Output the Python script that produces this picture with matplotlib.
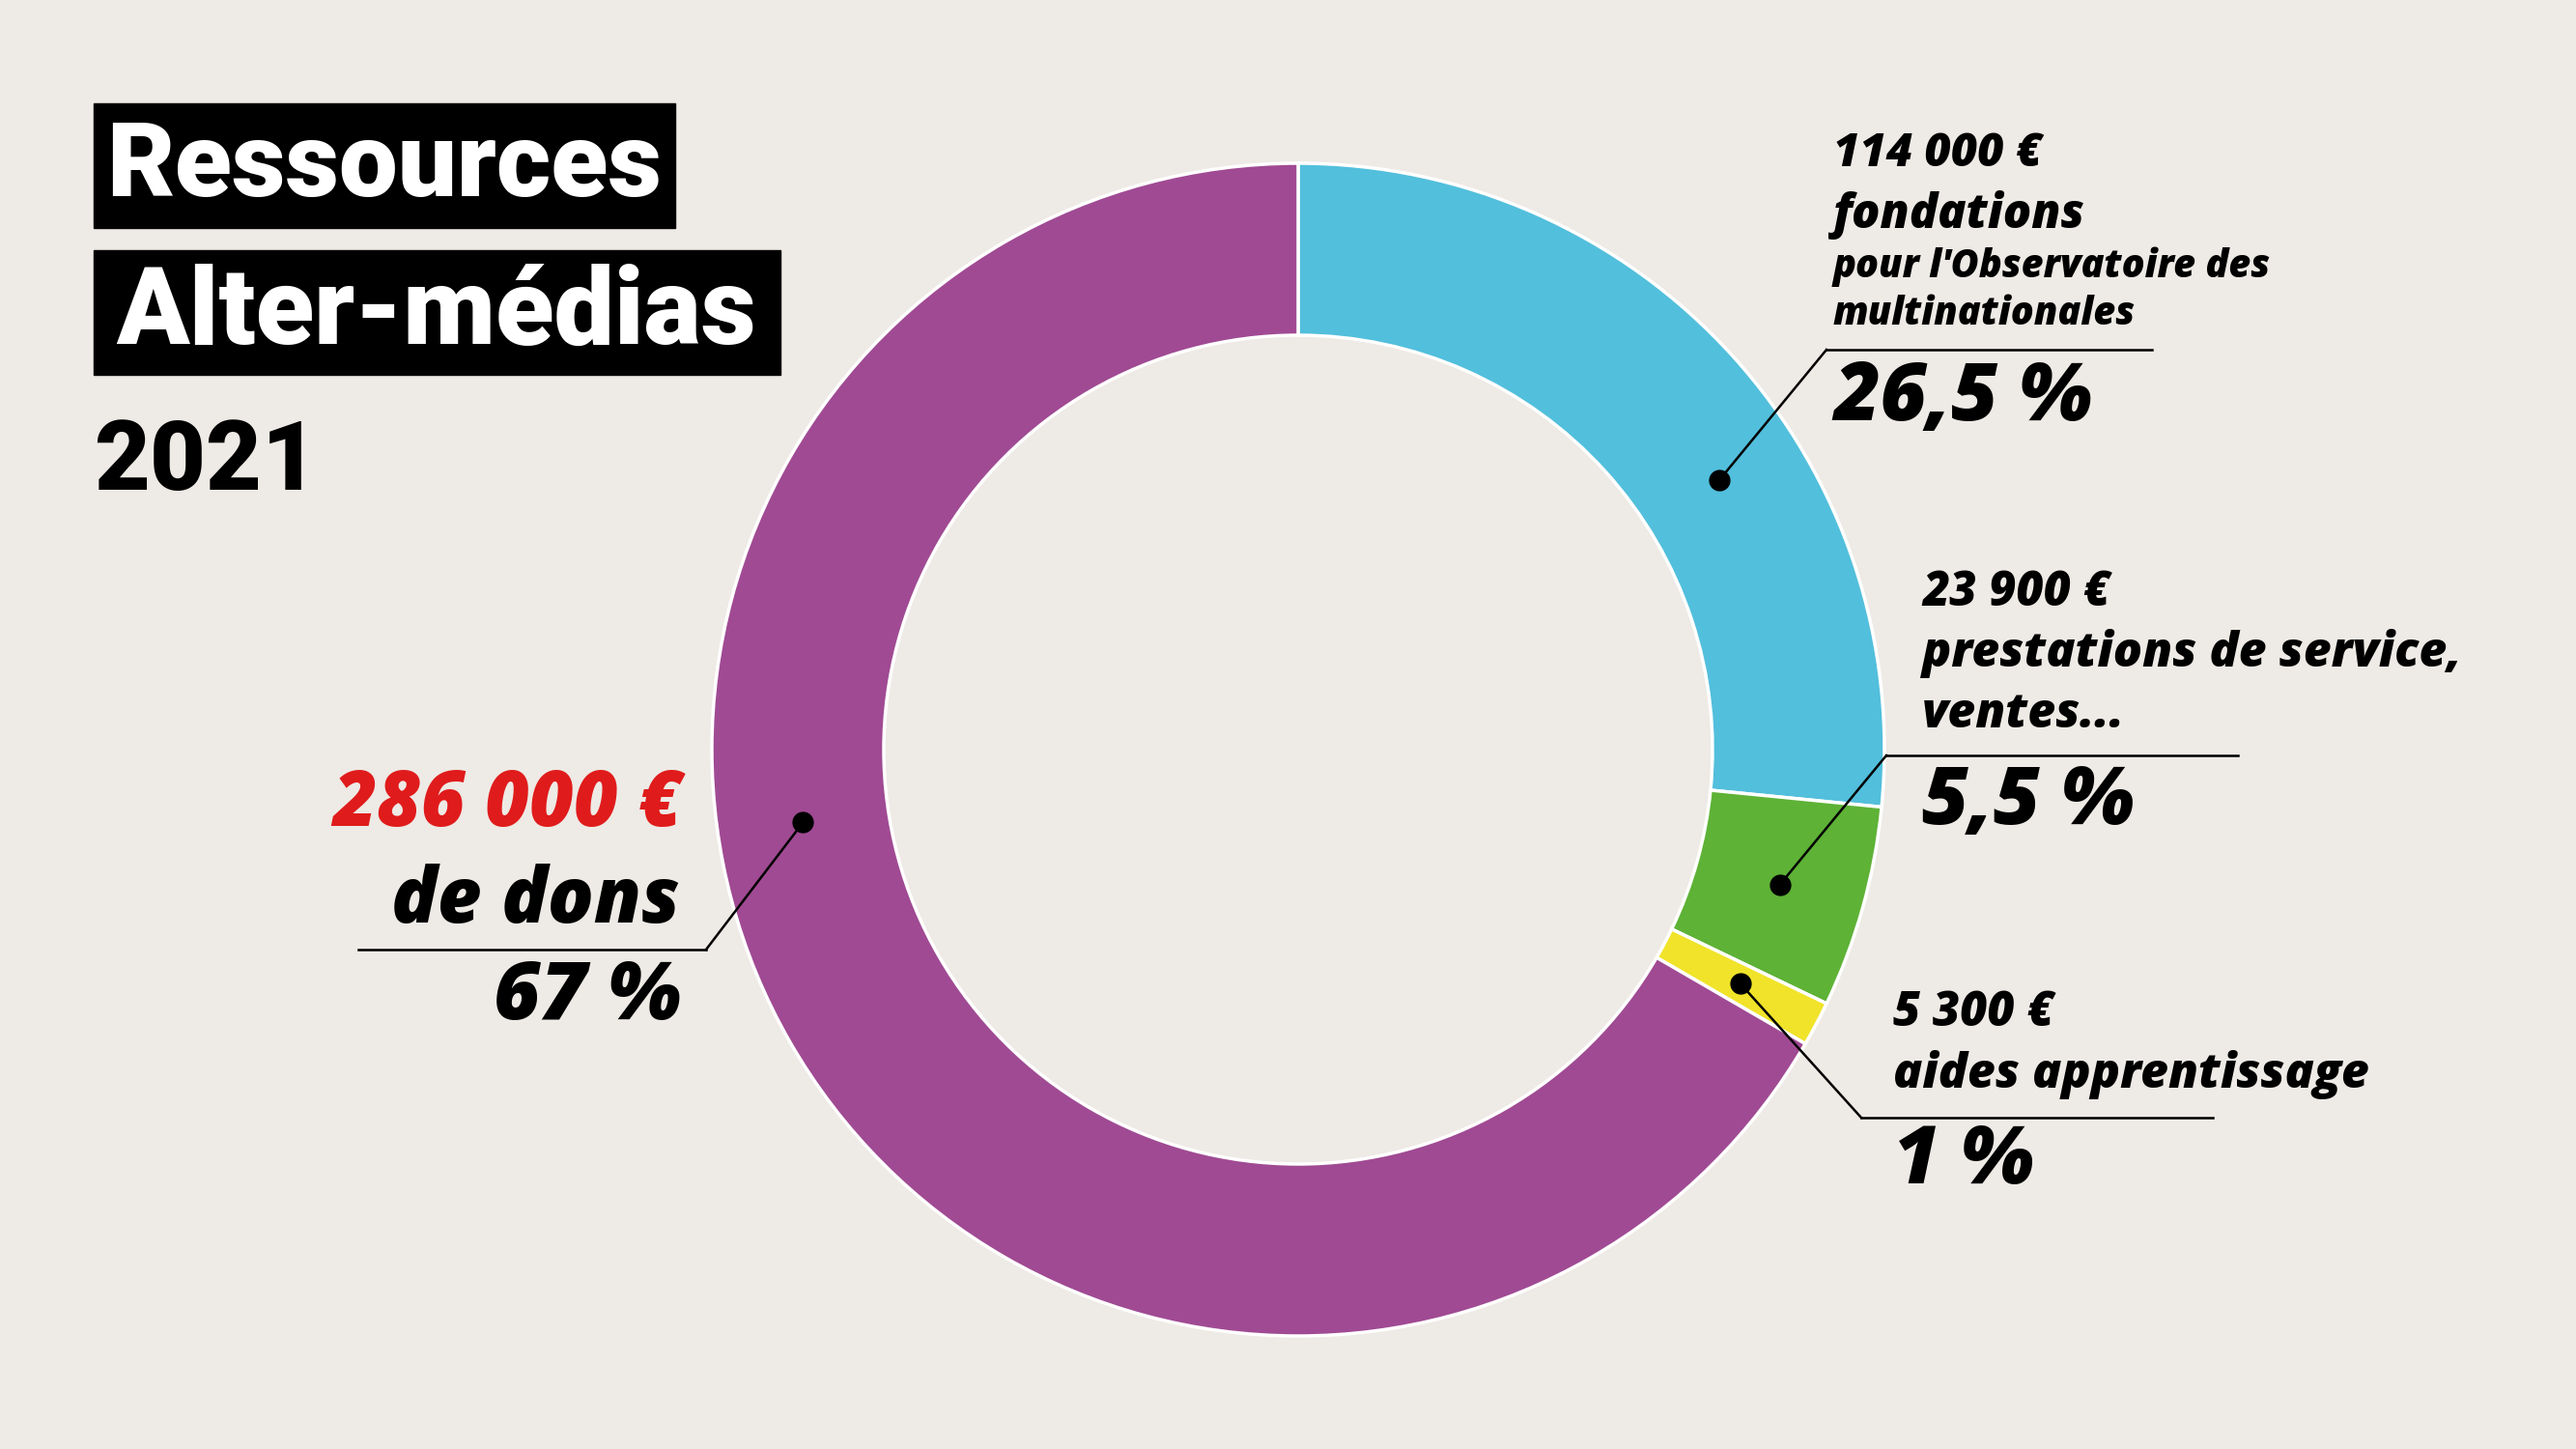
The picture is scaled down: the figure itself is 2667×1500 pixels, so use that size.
import numpy as np
import matplotlib.pyplot as plt
from matplotlib.patches import Rectangle

# data: resources 2021 (euros), clockwise from the top
categories = ["fondations", "prestations", "apprentissage", "dons"]
amounts = [114000, 23900, 5300, 286000]
amount_labels = ["114 000 €", "23 900 €", "5 300 €", "286 000 €"]
pct_labels = ["26,5 %", "5,5 %", "1 %", "67 %"]
colors = ["#52BFDC", "#5EB236", "#F0E32A", "#A04A93"]

W, H = 2667, 1500
BG = "#EEEAE5"
TITLE_FONT = ["Roboto", "DejaVu Sans"]
LABEL_FONT = ["Open Sans", "DejaVu Sans"]

fig = plt.figure(figsize=(W / 100, H / 100), dpi=100, facecolor=BG)
ax = fig.add_axes([0, 0, 1, 1])
ax.set_facecolor(BG)

# donut (y axis is flipped below, so counterclock + start -90 = clockwise from top)
cx, cy, r_out, ring = 1344, 776, 607, 178
wedges, _ = ax.pie(amounts, colors=colors, center=(cx, cy), radius=r_out,
                   startangle=-90, counterclock=True,
                   wedgeprops=dict(width=ring, edgecolor="white", linewidth=2.5))

ax.set_xlim(0, W)
ax.set_ylim(H, 0)
ax.set_aspect("equal")
ax.axis("off")

# title
ax.add_patch(Rectangle((97, 107), 602, 129, color="black", zorder=3))
ax.add_patch(Rectangle((97, 259), 711, 129, color="black", zorder=3))
ax.text(398, 174, "Ressources", color="white", fontsize=78, fontweight=900,
        family=TITLE_FONT, ha="center", va="center", zorder=4)
ax.text(452, 326, "Alter-médias", color="white", fontsize=80, fontweight=900,
        family=TITLE_FONT, ha="center", va="center", zorder=4)
ax.text(97, 480, "2021", color="black", fontsize=72, fontweight=900,
        family=TITLE_FONT, ha="left", va="center")

# dots on the ring: fraction along each wedge, leader end point
dot_frac = [0.6, 0.5, 0.5, 0.59]
r_mid = r_out - ring / 2
leader_end = [(1891, 362), (1953, 782), (1927, 1157), (731, 983)]
underline = [(1891, 2228, 362), (1953, 2317, 782), (1927, 2291, 1157), (371, 731, 983)]

for w, f, end, ul in zip(wedges, dot_frac, leader_end, underline):
    ang = np.deg2rad(w.theta1 + f * (w.theta2 - w.theta1))
    dx, dy = cx + r_mid * np.cos(ang), cy + r_mid * np.sin(ang)
    ax.plot([dx, end[0]], [dy, end[1]], color="black", lw=1.8, zorder=5)
    ax.plot([ul[0], ul[1]], [ul[2], ul[2]], color="black", lw=1.8, zorder=5)
    ax.plot(dx, dy, "o", color="black", markersize=15, zorder=6)

lab = dict(family=LABEL_FONT, style="italic", fontweight="heavy", color="black", va="center")
pct = dict(family=LABEL_FONT, style="italic", fontweight="heavy", color="black",
           va="center", fontsize=60)

# fondations
ax.text(1898, 160, amount_labels[0], fontsize=34, **lab)
ax.text(1898, 223, "fondations", fontsize=35, **lab)
ax.text(1898, 276, "pour l'Observatoire des", fontsize=28.5, **lab)
ax.text(1898, 325, "multinationales", fontsize=28.5, **lab)
ax.text(1898, 413, pct_labels[0], **pct)

# prestations
ax.text(1990, 614, amount_labels[1], fontsize=35, **lab)
ax.text(1990, 677, "prestations de service,", fontsize=36, **lab)
ax.text(1990, 740, "ventes...", fontsize=36, **lab)
ax.text(1990, 832, pct_labels[1], **pct)

# apprentissage
ax.text(1960, 1049, amount_labels[2], fontsize=35, **lab)
ax.text(1960, 1112, "aides apprentissage", fontsize=36, **lab)
ax.text(1960, 1204, pct_labels[2], **pct)

# dons
lab_r = dict(lab, color="#E01B1B")
ax.text(706, 834, amount_labels[3], fontsize=57, ha="right", **lab_r)
ax.text(704, 934, "de dons", fontsize=57, ha="right", **lab)
ax.text(706, 1034, pct_labels[3], ha="right", **pct)

plt.savefig("out.png", dpi=100, facecolor=BG)
